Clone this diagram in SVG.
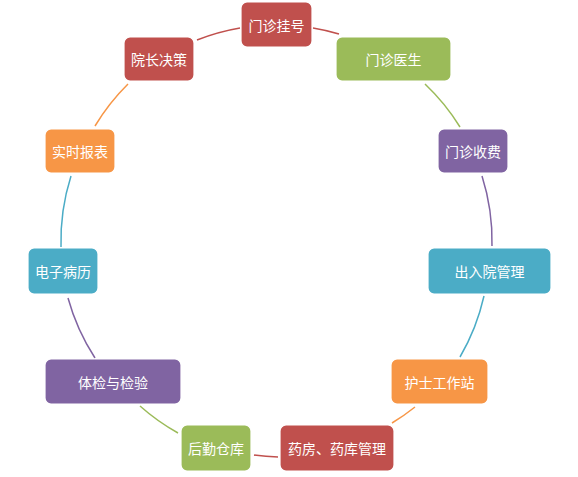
<svg xmlns="http://www.w3.org/2000/svg" width="578" height="477" viewBox="0 0 578 477">
<style>
.n rect{stroke:#ffffff;stroke-width:1.2}
.n text{fill:#ffffff;font-family:"Noto Sans CJK SC","Noto Sans",sans-serif;font-size:14px;text-anchor:middle;dominant-baseline:central}
.red{fill:#C0504D}.green{fill:#9BBB59}.purple{fill:#8064A2}.blue{fill:#4BACC6}.orange{fill:#F79646}
.c path{fill:none;stroke-width:1.5}
</style>
<rect width="578" height="477" fill="#ffffff"/>
<g id="connectors" class="c">
<path d="M313 28 A215 215 0 0 1 339 34" stroke="#C0504D"/>
<path d="M425 84 A215 215 0 0 1 460 127" stroke="#9BBB59"/>
<path d="M482 176 A215 215 0 0 1 492 246" stroke="#8064A2"/>
<path d="M484 296 A215 215 0 0 1 460 357" stroke="#4BACC6"/>
<path d="M415 407 A215 215 0 0 1 392 423" stroke="#F79646"/>
<path d="M278 457 A215 215 0 0 1 254 455" stroke="#C0504D"/>
<path d="M178 433 A215 215 0 0 1 140 406" stroke="#9BBB59"/>
<path d="M95 358 A215 215 0 0 1 68 298" stroke="#8064A2"/>
<path d="M61 247 A215 215 0 0 1 71 176" stroke="#4BACC6"/>
<path d="M95 126 A215 215 0 0 1 128 84" stroke="#F79646"/>
<path d="M197 40 A215 215 0 0 1 240 28" stroke="#C0504D"/>
</g>
<g id="n1" class="n"><rect class="red" x="241" y="2" width="71" height="45" rx="6"/><text x="276.5" y="24.5">门诊挂号</text></g>
<g id="n2" class="n"><rect class="green" x="336" y="37" width="115" height="44" rx="6"/><text x="393.5" y="59">门诊医生</text></g>
<g id="n3" class="n"><rect class="purple" x="438" y="129" width="70" height="44" rx="6"/><text x="473" y="151">门诊收费</text></g>
<g id="n4" class="n"><rect class="blue" x="428" y="248" width="123" height="46" rx="6"/><text x="489.5" y="271">出入院管理</text></g>
<g id="n5" class="n"><rect class="orange" x="391" y="359" width="97" height="45" rx="6"/><text x="439.5" y="381.5">护士工作站</text></g>
<g id="n6" class="n"><rect class="red" x="280" y="425" width="114" height="46" rx="6"/><text x="337" y="448">药房、药库管理</text></g>
<g id="n7" class="n"><rect class="green" x="181" y="425" width="70" height="46" rx="6"/><text x="216" y="448">后勤仓库</text></g>
<g id="n8" class="n"><rect class="purple" x="45" y="359" width="136" height="45" rx="6"/><text x="113" y="381.5">体检与检验</text></g>
<g id="n9" class="n"><rect class="blue" x="28" y="248" width="70" height="46" rx="6"/><text x="63" y="271">电子病历</text></g>
<g id="n10" class="n"><rect class="orange" x="45" y="129" width="70" height="44" rx="6"/><text x="80" y="151">实时报表</text></g>
<g id="n11" class="n"><rect class="red" x="124" y="37" width="70" height="44" rx="6"/><text x="159" y="59">院长决策</text></g>
</svg>
